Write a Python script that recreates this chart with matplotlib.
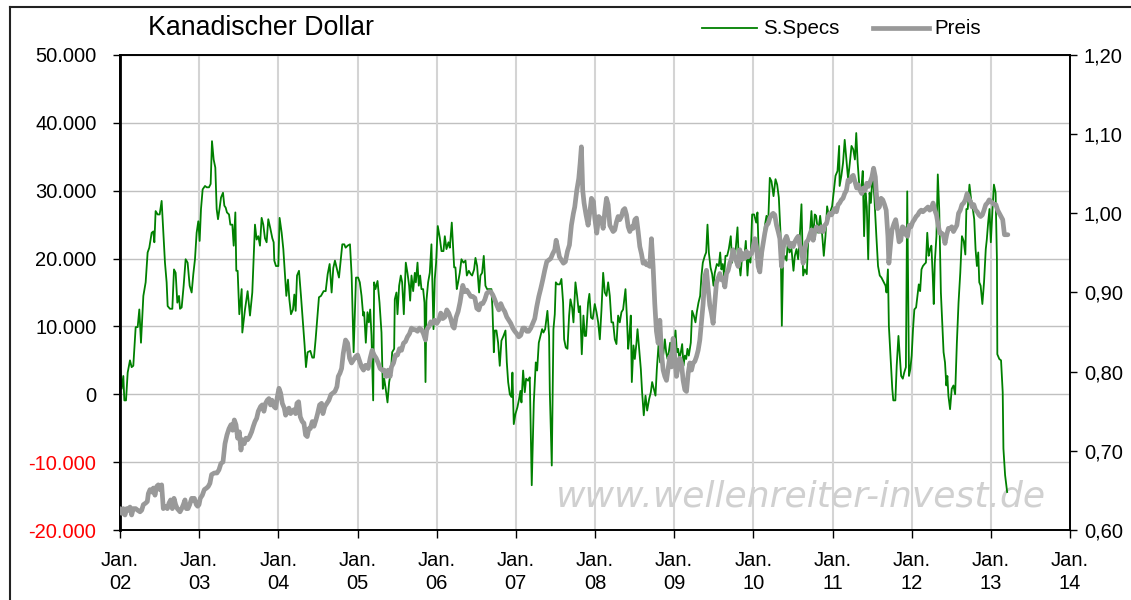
import matplotlib
matplotlib.use("Agg")
import matplotlib.pyplot as plt
from matplotlib.lines import Line2D
from matplotlib.ticker import FuncFormatter
import numpy as np

plt.rcParams['font.family'] = ['Liberation Sans', 'DejaVu Sans']

# ---------------- data ----------------
title = "Kanadischer Dollar"
legend_specs = "S.Specs"
legend_price = "Preis"
watermark = "www.wellenreiter-invest.de"

year_ticks = list(range(2002, 2015))
year_labels = [f"Jan.\n{y % 100:02d}" for y in year_ticks]
left_ticks = [-20000, -10000, 0, 10000, 20000, 30000, 40000, 50000]
right_ticks = [0.60, 0.70, 0.80, 0.90, 1.00, 1.10, 1.20]

# S.Specs net position (thousands of contracts), dates as decimal years
specs_year = [
    2002.000, 2002.021, 2002.042, 2002.055, 2002.076, 2002.097, 2002.126, 2002.147, 2002.168, 2002.198,
    2002.223, 2002.244, 2002.265, 2002.295, 2002.324, 2002.349, 2002.370, 2002.400, 2002.421, 2002.434,
    2002.450, 2002.476, 2002.501, 2002.526, 2002.547, 2002.568, 2002.589, 2002.602, 2002.631, 2002.661,
    2002.682, 2002.703, 2002.724, 2002.745, 2002.758, 2002.779, 2002.804, 2002.829, 2002.854, 2002.880,
    2002.905, 2002.926, 2002.947, 2002.968, 2002.989, 2003.006, 2003.023, 2003.044, 2003.074, 2003.095,
    2003.124, 2003.145, 2003.162, 2003.183, 2003.204, 2003.221, 2003.238, 2003.259, 2003.276, 2003.301,
    2003.318, 2003.335, 2003.351, 2003.377, 2003.394, 2003.419, 2003.436, 2003.457, 2003.469, 2003.486,
    2003.507, 2003.537, 2003.545, 2003.579, 2003.612, 2003.642, 2003.671, 2003.705, 2003.726, 2003.747,
    2003.768, 2003.789, 2003.810, 2003.831, 2003.852, 2003.873, 2003.898, 2003.924, 2003.941, 2003.949,
    2003.970, 2004.000, 2004.016, 2004.042, 2004.063, 2004.084, 2004.101, 2004.122, 2004.139, 2004.160,
    2004.185, 2004.202, 2004.219, 2004.236, 2004.261, 2004.286, 2004.307, 2004.332, 2004.349, 2004.370,
    2004.404, 2004.429, 2004.450, 2004.471, 2004.513, 2004.539, 2004.572, 2004.598, 2004.623, 2004.648,
    2004.673, 2004.694, 2004.715, 2004.741, 2004.766, 2004.791, 2004.808, 2004.833, 2004.850, 2004.875,
    2004.905, 2004.926, 2004.951, 2004.968, 2004.981,
    2005.008, 2005.029, 2005.051, 2005.072, 2005.084, 2005.105, 2005.126, 2005.143, 2005.160, 2005.177,
    2005.198, 2005.210, 2005.227, 2005.253, 2005.278, 2005.303, 2005.320, 2005.337, 2005.354, 2005.379,
    2005.400, 2005.421, 2005.438, 2005.463, 2005.471, 2005.492, 2005.505, 2005.526, 2005.547, 2005.564,
    2005.585, 2005.610, 2005.631, 2005.652, 2005.665, 2005.682, 2005.703, 2005.724, 2005.737, 2005.758,
    2005.774, 2005.791, 2005.808, 2005.829, 2005.846, 2005.859, 2005.871, 2005.892, 2005.913, 2005.934,
    2005.960, 2005.976, 2005.993, 2006.014, 2006.039, 2006.061, 2006.086, 2006.103, 2006.124, 2006.149,
    2006.166, 2006.191, 2006.208, 2006.221, 2006.237, 2006.254, 2006.271, 2006.292, 2006.313, 2006.338,
    2006.364, 2006.381, 2006.406, 2006.431, 2006.448, 2006.473, 2006.490, 2006.511, 2006.536, 2006.553,
    2006.574, 2006.595, 2006.616, 2006.637, 2006.663, 2006.692, 2006.705, 2006.722, 2006.734, 2006.755,
    2006.776, 2006.797, 2006.818, 2006.844, 2006.869, 2006.886, 2006.903, 2006.924, 2006.945, 2006.957,
    2006.974, 2006.995, 2007.020, 2007.041, 2007.058, 2007.071, 2007.092, 2007.113, 2007.130, 2007.155,
    2007.176, 2007.201, 2007.227, 2007.252, 2007.269, 2007.290, 2007.311, 2007.332, 2007.349, 2007.370,
    2007.399, 2007.420, 2007.429, 2007.454, 2007.475, 2007.492, 2007.505, 2007.526, 2007.555, 2007.576,
    2007.597, 2007.610, 2007.631, 2007.652, 2007.673, 2007.690, 2007.711, 2007.728, 2007.753, 2007.774,
    2007.795, 2007.812, 2007.833, 2007.854, 2007.871, 2007.887, 2007.913, 2007.929, 2007.950, 2007.971,
    2007.997,
    2008.019, 2008.040, 2008.061, 2008.082, 2008.103, 2008.124, 2008.145, 2008.166, 2008.187, 2008.208,
    2008.229, 2008.250, 2008.271, 2008.292, 2008.313, 2008.334, 2008.355, 2008.385, 2008.402, 2008.419,
    2008.435, 2008.452, 2008.465, 2008.486, 2008.503, 2008.524, 2008.537, 2008.558, 2008.579, 2008.595,
    2008.616, 2008.638, 2008.659, 2008.684, 2008.705, 2008.722, 2008.743, 2008.764, 2008.781, 2008.802,
    2008.823, 2008.840, 2008.861, 2008.882, 2008.899, 2008.916, 2008.932, 2008.949, 2008.974, 2009.000,
    2009.017, 2009.034, 2009.050, 2009.067, 2009.084, 2009.101, 2009.118, 2009.135, 2009.152, 2009.168,
    2009.185, 2009.210, 2009.227, 2009.248, 2009.269, 2009.286, 2009.307, 2009.328, 2009.345, 2009.362,
    2009.387, 2009.404, 2009.421, 2009.438, 2009.459, 2009.480, 2009.497, 2009.513, 2009.539, 2009.564,
    2009.581, 2009.597, 2009.614, 2009.631, 2009.648, 2009.669, 2009.690, 2009.715, 2009.732, 2009.749,
    2009.770, 2009.800, 2009.816, 2009.838, 2009.859, 2009.884, 2009.905, 2009.926, 2009.943, 2009.964,
    2009.985, 2010.010, 2010.036, 2010.052, 2010.069, 2010.090, 2010.111, 2010.128, 2010.145, 2010.166,
    2010.187, 2010.208, 2010.229, 2010.255, 2010.280, 2010.301, 2010.322, 2010.343, 2010.360, 2010.376,
    2010.398, 2010.419, 2010.440, 2010.456, 2010.482, 2010.507, 2010.524, 2010.545, 2010.566, 2010.587,
    2010.608, 2010.629, 2010.650, 2010.675, 2010.692, 2010.713, 2010.734, 2010.755, 2010.776, 2010.793,
    2010.818, 2010.844, 2010.869, 2010.890, 2010.911, 2010.932, 2010.953, 2010.970, 2010.995, 2011.012,
    2011.038, 2011.063, 2011.084,
    2011.090, 2011.112, 2011.133, 2011.154, 2011.176, 2011.197, 2011.219, 2011.240, 2011.262, 2011.283,
    2011.300, 2011.318, 2011.339, 2011.365, 2011.382, 2011.399, 2011.416, 2011.433, 2011.451, 2011.468,
    2011.485, 2011.506, 2011.528, 2011.554, 2011.575, 2011.597, 2011.618, 2011.648, 2011.670, 2011.682,
    2011.700, 2011.712, 2011.734, 2011.755, 2011.768, 2011.794, 2011.811, 2011.833, 2011.850, 2011.867,
    2011.888, 2011.906, 2011.927, 2011.944, 2011.966, 2011.983, 2012.000, 2012.017, 2012.034, 2012.056,
    2012.073, 2012.090, 2012.107, 2012.124, 2012.142, 2012.163, 2012.180, 2012.197, 2012.215, 2012.232,
    2012.249, 2012.266, 2012.279, 2012.292, 2012.313, 2012.330, 2012.348, 2012.369, 2012.386, 2012.403,
    2012.421, 2012.438, 2012.451, 2012.464, 2012.485, 2012.506, 2012.528, 2012.549, 2012.571, 2012.592,
    2012.614, 2012.635, 2012.657, 2012.678, 2012.691, 2012.708, 2012.730, 2012.751, 2012.773, 2012.790,
    2012.807, 2012.824, 2012.841, 2012.854, 2012.871, 2012.893, 2012.914, 2012.936, 2012.949, 2012.966,
    2012.983, 2013.000, 2013.021, 2013.039, 2013.060, 2013.077, 2013.082, 2013.107, 2013.129, 2013.150,
    2013.159, 2013.180, 2013.206,
]
specs_k = [
    4.0, 0.8, 2.7, -0.9, -0.9, 3.2, 5.0, 4.0, 4.2, 9.9,
    9.9, 12.5, 7.6, 14.5, 16.5, 20.9, 21.6, 23.8, 24.0, 22.4,
    27.0, 26.5, 26.5, 28.5, 23.8, 19.4, 16.5, 13.0, 12.6, 12.6,
    18.4, 17.9, 13.5, 14.5, 12.6, 12.8, 16.0, 19.9, 19.4, 16.0,
    15.0, 17.7, 19.9, 23.8, 25.5, 22.6, 27.3, 30.2, 30.7, 30.5,
    30.5, 31.0, 37.3, 34.6, 33.4, 27.3, 25.8, 27.5, 29.0, 29.7,
    27.8, 27.5, 26.8, 26.5, 25.0, 25.0, 21.9, 26.8, 18.2, 18.2,
    11.8, 15.5, 9.1, 12.5, 15.2, 11.6, 15.0, 25.0, 22.8, 23.3,
    21.9, 26.0, 25.0, 23.0, 22.4, 25.8, 24.5, 23.0, 22.4, 19.7,
    18.9, 18.9, 26.0, 23.8, 21.4, 17.5, 14.5, 16.9, 14.0, 11.8,
    12.5, 14.7, 12.3, 17.5, 18.2, 14.5, 11.1, 7.2, 4.0, 6.2,
    6.4, 5.4, 5.4, 8.1, 14.3, 14.5, 15.2, 15.2, 17.7, 19.2,
    15.0, 18.6, 19.7, 18.4, 17.2, 20.1, 22.1, 22.1, 21.6, 21.9,
    22.1, 17.5, 6.2, 12.3, 17.2,
    17.2, 16.5, 14.5, 11.6, 12.1, 7.6, 12.1, 10.6, 12.5, 8.6,
    -0.9, 16.5, 15.5, 16.7, 13.5, 9.1, 0.8, 2.3, 1.0, -1.2,
    1.8, 3.2, 6.2, 6.7, 14.0, 15.0, 11.8, 16.0, 17.5, 16.5,
    11.8, 19.4, 17.9, 16.0, 13.8, 17.5, 15.2, 17.9, 16.5, 19.4,
    16.0, 17.5, 15.5, 15.5, 13.5, 1.8, 13.8, 16.5, 17.9, 22.1,
    9.6, 17.0, 19.4, 24.8, 23.1, 21.1, 21.1, 23.3, 21.4, 22.4,
    21.6, 25.3, 21.4, 18.7, 18.7, 15.5, 16.5, 17.9, 19.9, 19.4,
    19.7, 17.5, 18.2, 17.7, 17.5, 18.4, 20.1, 18.9, 15.0, 17.5,
    17.9, 20.4, 16.0, 15.5, 15.5, 15.5, 12.5, 6.2, 9.4, 9.4,
    7.6, 4.2, 7.9, 8.6, 9.4, 4.7, 1.8, 0.0, -0.4, 3.2,
    -4.4, -2.9, -1.9, -0.7, 0.5, -1.2, 3.5, 0.3, 2.3, 2.0,
    2.5, -13.4, -1.2, 4.7, 3.5, 7.6, 8.6, 9.6, 9.1, 9.6,
    12.3, 8.6, 0.5, -10.5, 9.6, 11.8, 16.5, 16.2, 16.2, 17.0,
    13.5, 8.1, 6.9, 6.7, 11.6, 14.0, 12.8, 10.6, 16.5, 14.5,
    12.1, 13.0, 5.9, 11.6, 8.6, 8.6, 13.5, 14.8, 11.3, 11.1,
    13.3,
    12.1, 10.6, 8.1, 12.5, 17.9, 15.0, 14.5, 16.5, 14.5, 10.6,
    10.6, 8.1, 7.4, 11.6, 10.6, 12.1, 12.5, 15.5, 11.6, 6.7,
    8.6, 11.6, 1.8, 7.2, 5.2, 7.6, 9.6, 6.7, 3.7, 0.3,
    -3.1, -0.2, -2.4, -0.7, 0.3, 1.8, 0.8, -0.2, 3.7, 7.2,
    4.7, 6.7, 5.7, 8.1, 6.2, 5.2, 6.2, 7.6, 4.7, 6.7,
    9.4, 6.2, 6.7, 5.2, 6.2, 7.4, 4.2, 5.7, 5.2, 6.7,
    5.7, 7.6, 12.3, 11.6, 10.6, 12.1, 13.5, 14.5, 17.5, 19.4,
    20.4, 20.9, 25.0, 20.9, 18.7, 17.7, 16.0, 17.9, 19.2, 18.9,
    20.9, 18.4, 19.2, 17.5, 20.4, 20.4, 21.4, 23.3, 19.4, 21.4,
    20.4, 24.6, 19.9, 17.5, 20.4, 19.9, 22.6, 17.5, 20.4, 19.4,
    26.5, 26.5, 25.3, 26.8, 20.4, 17.9, 20.1, 22.4, 24.8, 26.3,
    25.0, 31.9, 31.4, 29.2, 31.7, 30.9, 29.0, 23.8, 10.1, 19.7,
    20.4, 19.7, 23.1, 20.9, 21.4, 18.2, 20.4, 21.4, 19.9, 23.3,
    28.0, 17.5, 18.4, 17.7, 22.4, 23.3, 27.0, 22.8, 26.5, 26.3,
    23.8, 26.3, 23.6, 20.4, 23.3, 27.7, 26.3, 26.8, 27.7, 29.5,
    32.2, 32.9, 36.6,
    30.7, 32.2, 34.1, 37.5, 34.6, 31.7, 34.1, 36.6, 36.1, 34.6,
    38.5, 34.1, 30.7, 30.4, 32.9, 23.3, 29.7, 27.7, 19.9, 29.7,
    28.2, 32.6, 29.2, 23.3, 18.9, 17.5, 17.2, 16.5, 16.0, 15.0,
    18.4, 10.1, 5.2, 0.8, -0.9, -0.9, 4.2, 8.6, 5.7, 2.7,
    2.3, 3.2, 4.0, 29.9, 2.7, 3.7, 5.7, 9.6, 12.5, 12.8,
    14.5, 16.2, 15.2, 18.4, 18.9, 19.2, 19.4, 23.8, 20.4, 21.4,
    21.9, 17.5, 13.3, 19.4, 23.3, 32.4, 27.3, 15.0, 10.6, 6.2,
    4.7, 1.3, 2.7, -0.2, -2.2, 0.8, 1.3, 0.0, 7.6, 13.5,
    17.9, 23.3, 22.6, 20.6, 27.3, 27.3, 30.9, 28.7, 27.3, 25.8,
    21.4, 18.9, 20.9, 16.5, 16.0, 13.3, 16.5, 21.4, 22.8, 25.3,
    27.3, 22.4, 27.3, 30.9, 29.7, 19.9, 5.9, 5.2, 5.0, 0.3,
    -8.0, -11.9, -14.4,
]

# Preis (right axis)
price_year = [
    2002.000, 2002.021, 2002.042, 2002.063, 2002.084, 2002.105, 2002.126, 2002.147, 2002.168, 2002.198,
    2002.223, 2002.253, 2002.274, 2002.295, 2002.324, 2002.345, 2002.358, 2002.379, 2002.400, 2002.421,
    2002.442, 2002.463, 2002.484, 2002.505, 2002.526, 2002.547, 2002.568, 2002.598, 2002.619, 2002.640,
    2002.661, 2002.682, 2002.703, 2002.724, 2002.758, 2002.779, 2002.800, 2002.821, 2002.838, 2002.859,
    2002.880, 2002.905, 2002.922, 2002.939, 2002.964, 2002.981, 2002.998, 2003.014, 2003.040, 2003.065,
    2003.094, 2003.115, 2003.136, 2003.157, 2003.191, 2003.225, 2003.250, 2003.275, 2003.301, 2003.326,
    2003.351, 2003.377, 2003.402, 2003.423, 2003.444, 2003.465, 2003.486, 2003.507, 2003.528, 2003.545,
    2003.570, 2003.591, 2003.612, 2003.637, 2003.663, 2003.684, 2003.705, 2003.726, 2003.747, 2003.776,
    2003.797, 2003.818, 2003.839, 2003.860, 2003.881, 2003.902, 2003.919, 2003.945, 2003.966, 2003.987,
    2004.008, 2004.029, 2004.050, 2004.075, 2004.092, 2004.117, 2004.134, 2004.155, 2004.176, 2004.197,
    2004.218, 2004.235, 2004.256, 2004.277, 2004.302, 2004.323, 2004.344, 2004.365, 2004.386, 2004.403,
    2004.429, 2004.450, 2004.475, 2004.496, 2004.521, 2004.546, 2004.563, 2004.588, 2004.614, 2004.639,
    2004.664, 2004.689, 2004.715, 2004.740, 2004.757, 2004.778, 2004.799, 2004.820, 2004.849, 2004.875,
    2004.900, 2004.925, 2004.950, 2004.976, 2005.001,
    2005.051, 2005.076, 2005.101, 2005.135, 2005.160, 2005.185, 2005.210, 2005.236, 2005.261, 2005.286,
    2005.311, 2005.337, 2005.362, 2005.387, 2005.412, 2005.429, 2005.455, 2005.480, 2005.505, 2005.530,
    2005.556, 2005.581, 2005.606, 2005.631, 2005.657, 2005.682, 2005.707, 2005.732, 2005.758, 2005.783,
    2005.808, 2005.833, 2005.859, 2005.875, 2005.901, 2005.926, 2005.951, 2005.976, 2006.002, 2006.027,
    2006.052, 2006.077, 2006.103, 2006.128, 2006.153, 2006.178, 2006.204, 2006.221, 2006.246, 2006.271,
    2006.296, 2006.313, 2006.330, 2006.355, 2006.381, 2006.406, 2006.431, 2006.456, 2006.482, 2006.507,
    2006.532, 2006.557, 2006.583, 2006.608, 2006.633, 2006.658, 2006.684, 2006.709, 2006.734, 2006.759,
    2006.785, 2006.810, 2006.835, 2006.860, 2006.886, 2006.911, 2006.936, 2006.961, 2006.987, 2007.012,
    2007.037, 2007.062, 2007.088, 2007.113, 2007.138, 2007.163, 2007.189, 2007.214, 2007.239, 2007.264,
    2007.290, 2007.315, 2007.340, 2007.365, 2007.391, 2007.416, 2007.441, 2007.466, 2007.492, 2007.509,
    2007.526, 2007.551, 2007.576, 2007.601, 2007.626, 2007.652, 2007.677, 2007.702, 2007.727, 2007.744,
    2007.770, 2007.795, 2007.812, 2007.828, 2007.845, 2007.862, 2007.887, 2007.913, 2007.938, 2007.955,
    2007.980, 2007.997, 2008.022, 2008.047,
    2008.082, 2008.103, 2008.124, 2008.145, 2008.166, 2008.187, 2008.208, 2008.229, 2008.250, 2008.271,
    2008.292, 2008.313, 2008.334, 2008.355, 2008.376, 2008.398, 2008.419, 2008.440, 2008.461, 2008.482,
    2008.503, 2008.524, 2008.545, 2008.566, 2008.587, 2008.608, 2008.629, 2008.650, 2008.671, 2008.692,
    2008.713, 2008.734, 2008.755, 2008.776, 2008.798, 2008.819, 2008.840, 2008.861, 2008.882, 2008.903,
    2008.924, 2008.945, 2008.966, 2008.987, 2009.008, 2009.029, 2009.050, 2009.071, 2009.092, 2009.113,
    2009.135, 2009.156, 2009.177, 2009.198, 2009.219, 2009.240, 2009.261, 2009.282, 2009.303, 2009.324,
    2009.345, 2009.366, 2009.387, 2009.408, 2009.429, 2009.450, 2009.471, 2009.492, 2009.513, 2009.534,
    2009.555, 2009.577, 2009.598, 2009.619, 2009.640, 2009.661, 2009.682, 2009.703, 2009.724, 2009.745,
    2009.766, 2009.787, 2009.808, 2009.829, 2009.850, 2009.871, 2009.892, 2009.913, 2009.934, 2009.956,
    2009.977, 2009.998, 2010.019, 2010.040, 2010.061, 2010.082, 2010.103, 2010.124, 2010.145, 2010.166,
    2010.187, 2010.208, 2010.229, 2010.250, 2010.271, 2010.293, 2010.314, 2010.335, 2010.356, 2010.377,
    2010.398, 2010.419, 2010.440, 2010.461, 2010.482, 2010.503, 2010.524, 2010.545, 2010.566, 2010.587,
    2010.608, 2010.629, 2010.650, 2010.671, 2010.692, 2010.713, 2010.734, 2010.756, 2010.777, 2010.798,
    2010.819, 2010.840, 2010.861, 2010.882, 2010.903, 2010.924, 2010.945, 2010.966, 2010.987, 2011.008,
    2011.029, 2011.050, 2011.071,
    2011.090, 2011.112, 2011.133, 2011.154, 2011.176, 2011.197, 2011.219, 2011.240, 2011.262, 2011.283,
    2011.305, 2011.326, 2011.348, 2011.369, 2011.391, 2011.412, 2011.433, 2011.455, 2011.476, 2011.498,
    2011.519, 2011.541, 2011.554, 2011.571, 2011.592, 2011.614, 2011.635, 2011.657, 2011.678, 2011.700,
    2011.712, 2011.734, 2011.751, 2011.777, 2011.798, 2011.820, 2011.841, 2011.863, 2011.884, 2011.906,
    2011.927, 2011.948, 2011.970, 2011.991, 2012.013, 2012.034, 2012.056, 2012.077, 2012.099, 2012.120,
    2012.142, 2012.163, 2012.185, 2012.206, 2012.227, 2012.249, 2012.270, 2012.292, 2012.313, 2012.335,
    2012.356, 2012.378, 2012.399, 2012.421, 2012.442, 2012.464, 2012.485, 2012.506, 2012.528, 2012.549,
    2012.571, 2012.592, 2012.614, 2012.635, 2012.657, 2012.678, 2012.700, 2012.721, 2012.743, 2012.764,
    2012.785, 2012.807, 2012.828, 2012.850, 2012.871, 2012.893, 2012.914, 2012.936, 2012.957, 2012.979,
    2013.000, 2013.021, 2013.043, 2013.064, 2013.086, 2013.107, 2013.129, 2013.150, 2013.172, 2013.215,
]
price = [
    0.627, 0.621, 0.627, 0.619, 0.627, 0.625, 0.629, 0.619, 0.627, 0.627,
    0.625, 0.623, 0.625, 0.632, 0.634, 0.636, 0.646, 0.651, 0.648, 0.653,
    0.644, 0.655, 0.657, 0.651, 0.657, 0.627, 0.630, 0.627, 0.634, 0.638,
    0.627, 0.640, 0.632, 0.627, 0.623, 0.627, 0.632, 0.638, 0.627, 0.627,
    0.632, 0.640, 0.638, 0.640, 0.632, 0.630, 0.632, 0.640, 0.644, 0.651,
    0.653, 0.655, 0.659, 0.670, 0.672, 0.672, 0.676, 0.684, 0.686, 0.709,
    0.720, 0.728, 0.733, 0.726, 0.739, 0.733, 0.716, 0.724, 0.701, 0.714,
    0.709, 0.716, 0.714, 0.718, 0.724, 0.731, 0.737, 0.741, 0.750, 0.756,
    0.758, 0.750, 0.760, 0.764, 0.766, 0.758, 0.764, 0.756, 0.754, 0.768,
    0.779, 0.773, 0.760, 0.754, 0.745, 0.750, 0.754, 0.747, 0.750, 0.752,
    0.747, 0.760, 0.762, 0.743, 0.737, 0.735, 0.720, 0.718, 0.728, 0.728,
    0.737, 0.731, 0.739, 0.747, 0.758, 0.760, 0.747, 0.756, 0.760, 0.764,
    0.771, 0.773, 0.775, 0.781, 0.794, 0.798, 0.804, 0.823, 0.840, 0.836,
    0.817, 0.811, 0.815, 0.819, 0.821,
    0.806, 0.802, 0.808, 0.804, 0.817, 0.827, 0.821, 0.817, 0.811, 0.804,
    0.802, 0.802, 0.794, 0.802, 0.794, 0.806, 0.811, 0.821, 0.821, 0.829,
    0.827, 0.836, 0.838, 0.844, 0.848, 0.855, 0.853, 0.853, 0.851, 0.855,
    0.853, 0.848, 0.840, 0.853, 0.857, 0.863, 0.861, 0.865, 0.861, 0.865,
    0.874, 0.867, 0.869, 0.878, 0.874, 0.867, 0.857, 0.855, 0.869, 0.876,
    0.888, 0.899, 0.909, 0.901, 0.903, 0.899, 0.895, 0.895, 0.893, 0.880,
    0.878, 0.886, 0.886, 0.891, 0.899, 0.901, 0.901, 0.897, 0.891, 0.884,
    0.878, 0.886, 0.880, 0.876, 0.869, 0.865, 0.861, 0.855, 0.851, 0.848,
    0.844, 0.846, 0.855, 0.855, 0.851, 0.851, 0.855, 0.861, 0.867, 0.882,
    0.895, 0.905, 0.916, 0.928, 0.939, 0.941, 0.943, 0.949, 0.954, 0.966,
    0.958, 0.945, 0.941, 0.937, 0.939, 0.952, 0.960, 0.985, 1.000, 1.008,
    1.029, 1.044, 1.063, 1.084, 1.029, 1.013, 0.998, 0.985, 1.004, 1.019,
    1.015, 0.994, 0.975, 0.996,
    0.992, 0.981, 1.002, 1.019, 1.011, 0.985, 0.981, 0.977, 0.979, 0.989,
    0.996, 0.992, 0.996, 1.004, 1.006, 0.998, 0.983, 0.977, 0.983, 0.981,
    0.992, 0.994, 0.977, 0.958, 0.949, 0.937, 0.939, 0.935, 0.935, 0.933,
    0.968, 0.933, 0.886, 0.851, 0.836, 0.865, 0.823, 0.802, 0.794, 0.789,
    0.804, 0.819, 0.806, 0.842, 0.819, 0.794, 0.806, 0.817, 0.811, 0.789,
    0.777, 0.775, 0.798, 0.811, 0.802, 0.811, 0.813, 0.819, 0.827, 0.840,
    0.863, 0.886, 0.920, 0.928, 0.905, 0.884, 0.874, 0.861, 0.886, 0.912,
    0.918, 0.924, 0.916, 0.918, 0.907, 0.924, 0.928, 0.937, 0.943, 0.954,
    0.945, 0.939, 0.933, 0.954, 0.941, 0.949, 0.943, 0.952, 0.945, 0.949,
    0.949, 0.958, 0.968, 0.958, 0.933, 0.926, 0.949, 0.962, 0.975, 0.985,
    0.987, 0.994, 0.998, 1.000, 0.998, 0.985, 0.977, 0.968, 0.933, 0.956,
    0.966, 0.971, 0.964, 0.958, 0.962, 0.958, 0.964, 0.968, 0.971, 0.960,
    0.954, 0.937, 0.954, 0.964, 0.966, 0.973, 0.979, 0.966, 0.977, 0.983,
    0.979, 0.977, 0.983, 0.977, 0.985, 0.987, 0.996, 1.000, 0.998, 1.002,
    1.006, 1.002, 1.011,
    1.013, 1.017, 1.019, 1.025, 1.029, 1.042, 1.040, 1.046, 1.048, 1.040,
    1.032, 1.036, 1.029, 1.025, 1.032, 1.029, 1.038, 1.034, 1.040, 1.046,
    1.057, 1.046, 1.025, 1.006, 1.008, 1.019, 1.017, 1.011, 1.004, 0.971,
    0.937, 0.962, 0.979, 0.987, 0.992, 0.979, 0.964, 0.966, 0.983, 0.981,
    0.973, 0.971, 0.985, 0.983, 0.989, 0.992, 0.996, 0.998, 1.002, 1.004,
    1.002, 1.004, 1.006, 1.008, 1.004, 1.006, 1.013, 1.004, 0.998, 0.985,
    0.975, 0.975, 0.973, 0.962, 0.973, 0.981, 0.981, 0.983, 0.977, 0.981,
    0.985, 1.000, 1.004, 1.011, 1.013, 1.017, 1.025, 1.019, 1.015, 1.008,
    1.011, 1.004, 1.002, 0.998, 0.996, 0.998, 1.004, 1.011, 1.013, 1.017,
    1.015, 1.013, 1.011, 1.011, 1.004, 1.000, 0.996, 0.992, 0.973, 0.973,
]

specs = np.array(specs_k) * 1000.0

# ---------------- figure ----------------
W, H = 1131, 600
fig = plt.figure(figsize=(W / 100, H / 100), dpi=100)
fig.patch.set_facecolor('white')

x0, x1, y0, y1 = 120, 1070, 55, 530
ax = fig.add_axes([x0 / W, 1 - y1 / H, (x1 - x0) / W, (y1 - y0) / H])
ax2 = ax.twinx()

ax.set_xlim(2002, 2014)
ax.set_ylim(-20000, 50000)
ax2.set_ylim(0.6, 1.2)

# grid
for yv in left_ticks:
    ax.axhline(yv, color='#c0c0c0', lw=1.0, zorder=0.5)
for xv in year_ticks:
    ax.axvline(xv, color='#d4d4d4', lw=1.5, zorder=0.5)

# watermark
ax.text(0.975, 0.07, watermark, transform=ax.transAxes, ha='right', va='center',
        fontsize=26, color='#d0d0d0', family='DejaVu Sans', style='italic', zorder=0.8)

ax.plot(specs_year, specs, color='#008000', lw=1.3, zorder=2)
ax2.plot(price_year, price, color='#999999', lw=3.4, solid_joinstyle='round',
         solid_capstyle='round', zorder=3)

# ticks & labels
ax.set_xticks(year_ticks)
ax.set_xticklabels(year_labels, fontsize=14.5, linespacing=1.3)
ax.set_yticks(left_ticks)
ax.yaxis.set_major_formatter(FuncFormatter(lambda v, p: f"{v:,.0f}".replace(",", ".")))
ax.tick_params(axis='y', labelsize=14.5, length=5, width=1, pad=12, direction='out')
ax.tick_params(axis='x', length=6, width=1, pad=9, direction='out')
for lab, v in zip(ax.get_yticklabels(), left_ticks):
    if v < 0:
        lab.set_color('red')

ax2.set_yticks(right_ticks)
ax2.yaxis.set_major_formatter(FuncFormatter(lambda v, p: f"{v:.2f}".replace(".", ",")))
ax2.tick_params(axis='y', labelsize=14.5, length=5, width=1, pad=5, direction='out')

for a in (ax, ax2):
    for s in a.spines.values():
        s.set_color('black')
        s.set_linewidth(1.2)
ax.spines['left'].set_linewidth(2.0)

# title
fig.text(148 / W, 1 - 28 / H, title, fontsize=19.3, ha='left', va='center')

# legend (drawn manually to match placement)
ly = 1 - 28 / H
fig.add_artist(Line2D([702 / W, 757 / W], [ly, ly], color='#008000', lw=1.3))
fig.text(763 / W, ly, legend_specs, fontsize=14.8, ha='left', va='center')
fig.add_artist(Line2D([873 / W, 929 / W], [ly, ly], color='#999999', lw=3.4))
fig.text(934 / W, ly, legend_price, fontsize=14.8, ha='left', va='center')

# outer frame (left and top edges visible)
fig.add_artist(Line2D([10 / W, 10 / W], [0, 1 - 7 / H], color='#222222', lw=1.5))
fig.add_artist(Line2D([10 / W, 1], [1 - 7 / H, 1 - 7 / H], color='#222222', lw=1.5))

fig.savefig('out.png', dpi=100)
